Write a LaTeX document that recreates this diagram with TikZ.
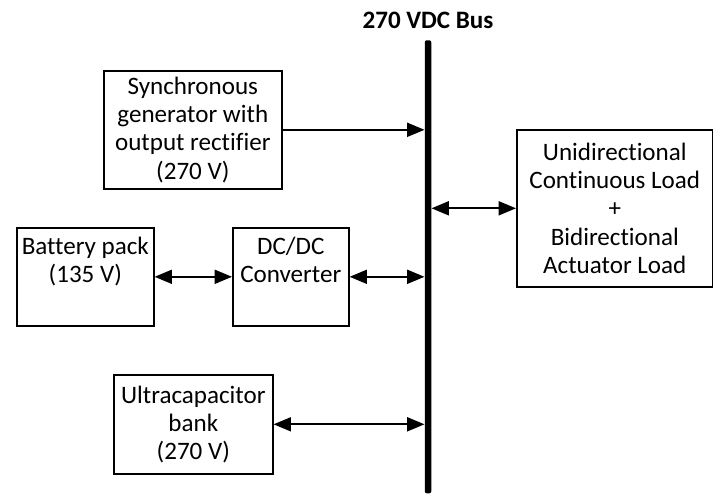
\documentclass[tikz,border=0pt]{standalone}
\usepackage{fontspec}
\setmainfont{Carlito}[Ligatures=CommonOff]
\usetikzlibrary{arrows.meta}
\begin{document}
\begin{tikzpicture}[x=0.75pt,y=-0.75pt,
  box/.style={draw, line width=1.2pt, inner sep=0pt, anchor=north west, align=center,
    font=\fontsize{18.8}{21.2}\selectfont},
  lbl/.style={align=center, font=\fontsize{18.8}{21.2}\selectfont, inner sep=0pt},
  conn/.style={line width=1.3pt, -{Triangle[length=13pt,width=10.5pt]}},
  bidir/.style={line width=1.3pt, {Triangle[length=13pt,width=10.5pt]}-{Triangle[length=13pt,width=10.5pt]}}]
\useasboundingbox (0,0) rectangle (713,493);
% bus
\node[fill=black, inner sep=0pt, anchor=north, minimum width=6.5*0.75pt, minimum height=453*0.75pt, rounded corners=1.5pt] (bus) at (428,40) {};
\node[font=\bfseries\fontsize{18.8}{21.2}\selectfont, anchor=base, inner sep=0pt] (title) at (428,28) {270 VDC Bus};
% boxes
\node[box, minimum width=178*0.75pt, minimum height=118*0.75pt] (sg) at (103,70)
  {Synchronous\\generator with\\output rectifier\\(270 V)};
\node[box, minimum width=196*0.75pt, minimum height=157*0.75pt] (load) at (516,129)
  {Unidirectional\\Continuous Load\\+\\Bidirectional\\Actuator Load};
\node[box, minimum width=137*0.75pt, minimum height=98*0.75pt] (bat) at (16,227) {};
\node[lbl, anchor=north] (battxt) at ([yshift=-7.5pt]bat.north) {Battery pack\\(135 V)};
\node[box, minimum width=116*0.75pt, minimum height=98*0.75pt] (dc) at (232,227) {};
\node[lbl, anchor=north] (dctxt) at ([yshift=-7.5pt]dc.north) {DC/DC\\Converter};
\node[box, minimum width=159*0.75pt, minimum height=99*0.75pt] (uc) at (113,374)
  {Ultracapacitor\\bank\\(270 V)};
% connectors
\draw[conn] (sg.east) -- (sg.east -| bus.west);
\draw[bidir] (load.west -| bus.east) -- (load.west);
\draw[bidir] (bat.east) -- (dc.west);
\draw[bidir] (dc.east) -- (dc.east -| bus.west);
\draw[bidir] (uc.east) -- (uc.east -| bus.west);
\end{tikzpicture}
\end{document}
